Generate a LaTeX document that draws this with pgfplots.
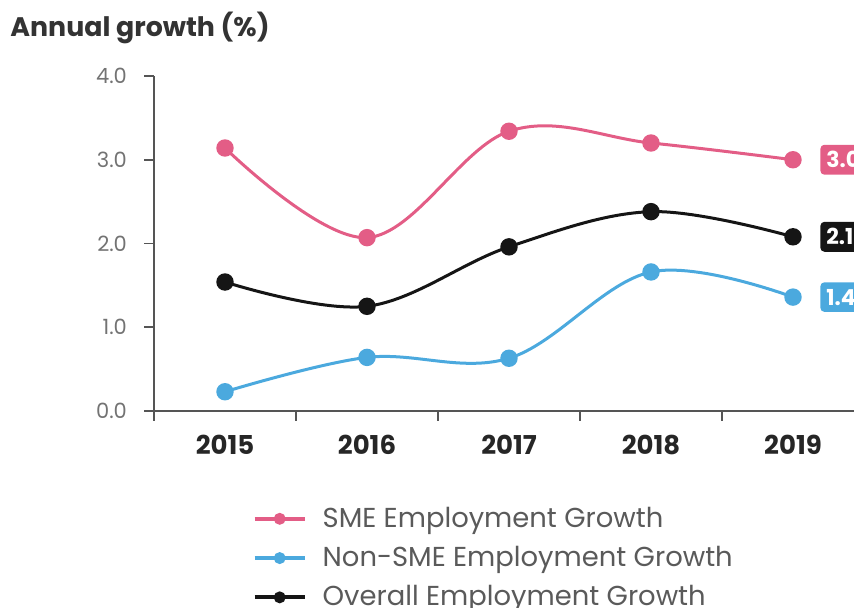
\documentclass[border=0pt]{standalone}
\usepackage{fontspec}
\setmainfont{Poppins}
\usepackage{pgfplots}
\pgfplotsset{compat=1.18}
\definecolor{smecol}{HTML}{E35D86}
\definecolor{nonsme}{HTML}{4BA9DE}
\definecolor{overall}{HTML}{151515}
\definecolor{axgray}{HTML}{555555}
\definecolor{txtgray}{HTML}{5A5A5A}
\begin{document}
\begin{tikzpicture}
\useasboundingbox (0pt,0pt) rectangle (427pt,304pt);
\clip (0pt,0pt) rectangle (427pt,304pt);
\node[anchor=west, font=\bfseries\fontsize{13.4}{15}\selectfont, text=black!80, inner sep=0pt] at (5pt,290pt) {Annual growth (\%)};
\begin{axis}[
  at={(77pt,98.5pt)}, anchor=south west,
  scale only axis, width=355pt, height=167.5pt,
  xmin=-0.5, xmax=4.5, ymin=0, ymax=4,
  axis lines*=left,
  axis line style={draw=axgray, line width=0.8pt},
  tick style={draw=axgray, line width=0.8pt},
  tick align=outside, major tick length=5pt,
  ytick={0,1,2,3,4},
  yticklabel style={/pgf/number format/fixed, /pgf/number format/fixed zerofill, /pgf/number format/precision=1, /pgf/number format/assume math mode=true},
  yticklabel style={font=\fontsize{10.5}{12}\selectfont, text=txtgray!85, xshift=-5pt},
  xtick={-0.5,0.5,1.5,2.5,3.5}, xticklabels={},
  extra x ticks={0,1,2,3,4},
  extra x tick labels={2015,2016,2017,2018,2019},
  extra x tick style={major tick length=0pt, tick label style={font=\bfseries\fontsize{13}{14}\selectfont, text=black!85, yshift=-8.5pt}},
  legend style={at={(rel axis cs:0.13,-0.262)}, anchor=north west, draw=none, fill=none,
    font=\fontsize{13.7}{15}\selectfont, text=txtgray, row sep=4pt,
    nodes={inner xsep=8pt}},
  legend cell align=left,
  legend image code/.code={\draw[#1, mark=none, line width=2pt] (0pt,0pt) -- (25pt,0pt); \fill[#1] (12.5pt,0pt) circle (2.2pt);},
  clip=false,
]
\addplot[smecol, line width=1.5pt, smooth, tension=0.6, mark=*, mark size=3.6pt] coordinates {(0,3.14)(1,2.07)(2,3.34)(3,3.20)(4,3.00)};
\addlegendentry{SME Employment Growth}
\addplot[nonsme, line width=1.5pt, smooth, tension=0.6, mark=*, mark size=3.6pt] coordinates {(0,0.23)(1,0.64)(2,0.63)(3,1.66)(4,1.36)};
\addlegendentry{Non-SME Employment Growth}
\addplot[overall, line width=1.5pt, smooth, tension=0.6, mark=*, mark size=3.6pt] coordinates {(0,1.54)(1,1.25)(2,1.96)(3,2.38)(4,2.08)};
\addlegendentry{Overall Employment Growth}
\node[fill=smecol, rounded corners=2pt, text=white, font=\bfseries\fontsize{11}{12}\selectfont, anchor=west, minimum height=14pt, inner xsep=3pt] at (axis cs:4.19,3.00) {3.0};
\node[fill=overall, rounded corners=2pt, text=white, font=\bfseries\fontsize{11}{12}\selectfont, anchor=west, minimum height=14pt, inner xsep=3pt] at (axis cs:4.19,2.08) {2.1};
\node[fill=nonsme, rounded corners=2pt, text=white, font=\bfseries\fontsize{11}{12}\selectfont, anchor=west, minimum height=14pt, inner xsep=3pt] at (axis cs:4.19,1.36) {1.4};
\end{axis}
\end{tikzpicture}
\end{document}
